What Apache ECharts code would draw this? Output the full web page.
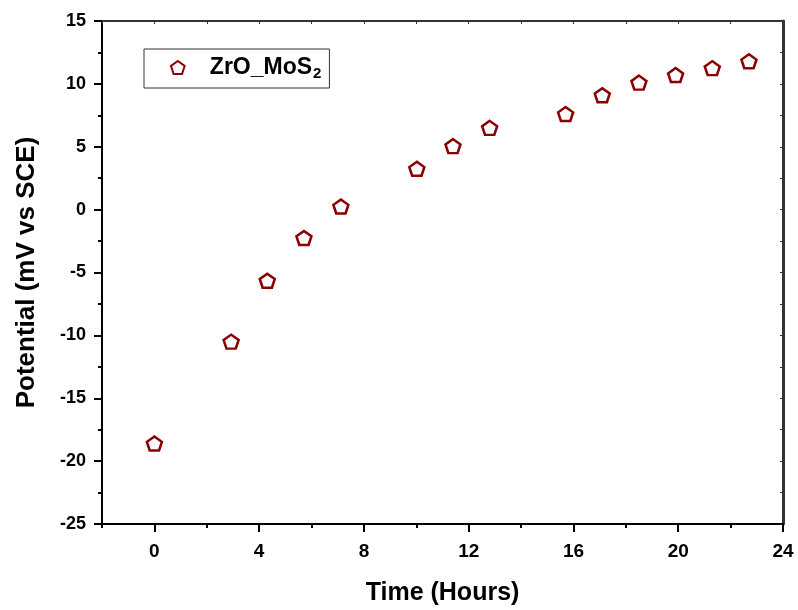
<!DOCTYPE html>
<html>
<head>
<meta charset="utf-8">
<script src="https://cdn.jsdelivr.net/npm/echarts@6/dist/echarts.min.js"></script>
<style>
html,body{margin:0;padding:0;background:#fff;}
#chart{width:798px;height:610px;}
</style>
</head>
<body>
<div id="chart"></div>
<script>
const hours = [0, 2.93, 4.31, 5.71, 7.12, 10.02, 11.4, 12.8, 15.7, 17.1, 18.5, 19.9, 21.3, 22.7];
const potential = [-18.6, -10.5, -5.65, -2.25, 0.25, 3.25, 5.05, 6.5, 7.6, 9.1, 10.1, 10.7, 11.25, 11.8];
const xTicks = [0, 4, 8, 12, 16, 20, 24];
const seriesName = 'ZrO_MoS2';
const xTitle = 'Time (Hours)';
const yTitle = 'Potential (mV vs SCE)';

const FONT = '"Liberation Sans", Arial, sans-serif';
const PENTAGON = 'path://M50,0L97.55,34.55L79.39,90.45L20.61,90.45L2.45,34.55Z';
const MARK = '#8B0000';

const chart = echarts.init(document.getElementById('chart'), null, {renderer: 'canvas'});
const noSplit = {show: false};
const option = {
  backgroundColor: '#ffffff',
  animation: false,
  grid: {left: 102, right: 15, top: 21, bottom: 86, containLabel: false, outerBoundsMode: 'none'},
  legend: {
    left: 144, top: 49,
    orient: 'vertical',
    padding: [7, 8, 7, 26],
    borderColor: '#333', borderWidth: 1,
    itemWidth: 14, itemHeight: 13,
    data: [{name: seriesName, icon: PENTAGON}],
    formatter: function () { return '{a|ZrO_MoS}{b|2}'; },
    textStyle: {
      fontFamily: FONT, fontWeight: 'bold', fontSize: 23, color: '#000',
      rich: {
        a: {fontFamily: FONT, fontWeight: 'bold', fontSize: 23, color: '#000', padding: [0, 0, 0, 20]},
        b: {fontFamily: FONT, fontWeight: 'bold', fontSize: 15, color: '#000', padding: [12, 0, 0, 1]}
      }
    }
  },
  xAxis: [
    {
      type: 'value', position: 'bottom', min: -2, max: 24,
      axisLine: {show: true, onZero: false, lineStyle: {color: '#000', width: 2}},
      axisTick: {show: true, inside: false, length: 8, customValues: xTicks, lineStyle: {color: '#000', width: 2}},
      axisLabel: {show: true, customValues: xTicks, margin: 18, fontFamily: FONT, fontWeight: 'bold', fontSize: 19, color: '#000'},
      splitLine: noSplit,
      name: xTitle, nameLocation: 'middle', nameGap: 57, nameMoveOverlap: false,
      nameTextStyle: {fontFamily: FONT, fontWeight: 'bold', fontSize: 25, color: '#000'}
    },
    {
      type: 'value', position: 'bottom', min: -2, max: 24, interval: 2,
      axisLine: {show: false, onZero: false},
      axisTick: {show: true, inside: false, length: 4, lineStyle: {color: '#000', width: 2}},
      axisLabel: {show: false}, splitLine: noSplit
    },
    {
      type: 'value', position: 'top', min: -2, max: 24, interval: 2,
      axisLine: {show: true, onZero: false, lineStyle: {color: '#333', width: 2}},
      axisTick: {show: true, inside: true, length: 3, lineStyle: {color: '#333', width: 1}},
      axisLabel: {show: false}, splitLine: noSplit
    }
  ],
  yAxis: [
    {
      type: 'value', position: 'left', min: -25, max: 15, interval: 5,
      axisLine: {show: true, onZero: false, lineStyle: {color: '#000', width: 2}},
      axisTick: {show: true, inside: false, length: 8, lineStyle: {color: '#000', width: 2}},
      axisLabel: {show: true, margin: 16, fontFamily: FONT, fontWeight: 'bold', fontSize: 18, color: '#000'},
      splitLine: noSplit,
      name: yTitle, nameLocation: 'middle', nameGap: 62, nameMoveOverlap: false,
      nameTextStyle: {fontFamily: FONT, fontWeight: 'bold', fontSize: 26, color: '#000'}
    },
    {
      type: 'value', position: 'left', min: -25, max: 15, interval: 2.5,
      axisLine: {show: false, onZero: false},
      axisTick: {show: true, inside: false, length: 4, lineStyle: {color: '#000', width: 2}},
      axisLabel: {show: false}, splitLine: noSplit
    },
    {
      type: 'value', position: 'right', min: -25, max: 15, interval: 2.5,
      axisLine: {show: true, onZero: false, lineStyle: {color: '#333', width: 3}},
      axisTick: {show: true, inside: true, length: 3, lineStyle: {color: '#333', width: 1}},
      axisLabel: {show: false}, splitLine: noSplit
    }
  ],
  series: [{
    name: seriesName,
    type: 'scatter',
    xAxisIndex: 0, yAxisIndex: 0,
    symbol: PENTAGON,
    symbolSize: [15, 14],
    itemStyle: {color: '#ffffff', borderColor: MARK, borderWidth: 2.5, opacity: 1},
    data: hours.map((h, i) => [h, potential[i]])
  }]
};
chart.setOption(option);
</script>
</body>
</html>
